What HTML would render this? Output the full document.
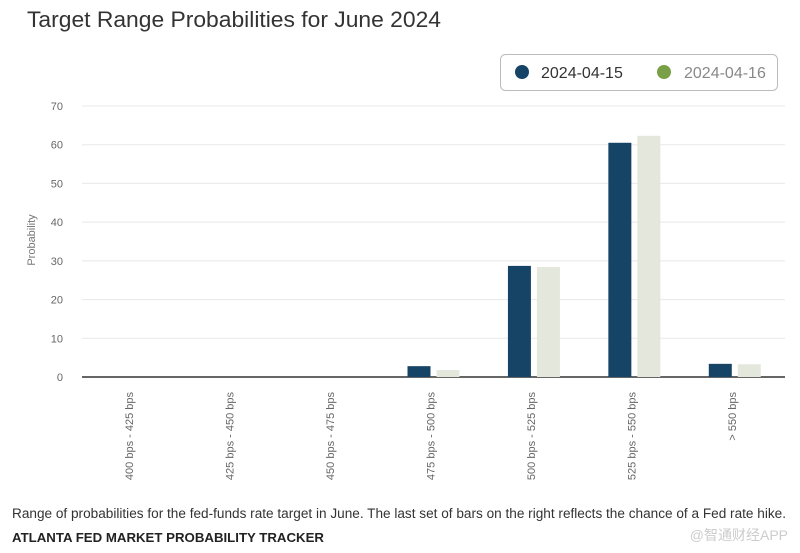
<!DOCTYPE html>
<html><head><meta charset="utf-8"><style>
html,body{margin:0;padding:0;background:#fff;}
svg{display:block;font-family:"Liberation Sans","Noto Sans CJK SC",sans-serif;}
</style></head><body>
<svg id="chart" width="800" height="553" viewBox="0 0 800 553">
<text x="27" y="27" font-size="22" fill="#333" textLength="414" lengthAdjust="spacingAndGlyphs">Target Range Probabilities for June 2024</text>
<g>
<rect x="500.5" y="54.5" width="277" height="36" rx="5" fill="#fff" stroke="#bbb"/>
<g><circle cx="522" cy="72" r="7" fill="#164466"/><text x="541" y="78" font-size="16" fill="#333">2024-04-15</text></g>
<g><circle cx="664" cy="72" r="7" fill="#79a046"/><text x="684" y="78" font-size="16" fill="#888">2024-04-16</text></g>
</g>
<g id="grid"></g><g id="bars"></g><g id="xlabels"></g>
<text transform="translate(35,240) rotate(-90)" text-anchor="middle" font-size="11" fill="#777">Probability</text>
<text x="12" y="518" font-size="13.5" fill="#333" textLength="774" lengthAdjust="spacingAndGlyphs">Range of probabilities for the fed-funds rate target in June. The last set of bars on the right reflects the chance of a Fed rate hike.</text>
<text x="12" y="542" font-size="13" fill="#222" font-weight="bold" textLength="312" lengthAdjust="spacingAndGlyphs">ATLANTA FED MARKET PROBABILITY TRACKER</text>
<text x="788" y="540" text-anchor="end" font-size="14" fill="#ccc">@智通财经APP</text>
</svg>
<script>
const categories=["400 bps - 425 bps","425 bps - 450 bps","450 bps - 475 bps","475 bps - 500 bps","500 bps - 525 bps","525 bps - 550 bps","> 550 bps"];
const series1=[0,0,0,2.8,28.7,60.5,3.4];
const series2=[0,0,0,1.8,28.4,62.3,3.3];
const yTicks=[0,10,20,30,40,50,60,70];
const NS="http://www.w3.org/2000/svg";
const x0=82,x1=785,yBase=377,yTop=106,yMax=70;
const y=v=>yBase-(v/yMax)*(yBase-yTop);
const bw=(x1-x0)/categories.length;
const xc=i=>x0+bw*(i+0.5);
function mk(tag,attrs,parent){const e=document.createElementNS(NS,tag);for(const k in attrs)e.setAttribute(k,attrs[k]);parent.appendChild(e);return e;}
const grid=document.getElementById('grid');
yTicks.forEach(t=>{
 if(t>0){const l=mk('line',{x1:x0,x2:x1,y1:y(t),y2:y(t),stroke:'#e8e8e8','stroke-width':1},grid);
 
 }
 const tx=mk('text',{x:63,y:y(t)+4,'text-anchor':'end','font-size':11,fill:'#666'},grid);
 tx.textContent=t;
 
 
});
const axis=mk('line',{x1:x0,x2:x1,y1:yBase,y2:yBase,stroke:'#666','stroke-width':2},grid);


const bars=document.getElementById('bars'),xl=document.getElementById('xlabels');
categories.forEach((c,i)=>{
 const w=23,g=6;
 const b1=mk('rect',{x:xc(i)-g/2-w,y:y(series1[i]),width:w,height:yBase-y(series1[i]),fill:'#164466'},bars);
 
 
 const b2=mk('rect',{x:xc(i)+g/2,y:y(series2[i]),width:w,height:yBase-y(series2[i]),fill:'#e4e8dc'},bars);
 
 
 const t=mk('text',{transform:`translate(${xc(i)-3},392) rotate(-90)`,'text-anchor':'end','font-size':11,fill:'#666'},xl);
 t.setAttribute('x',0);t.setAttribute('y',4);
 t.textContent=c;
 
 
});
</script>
</body></html>
